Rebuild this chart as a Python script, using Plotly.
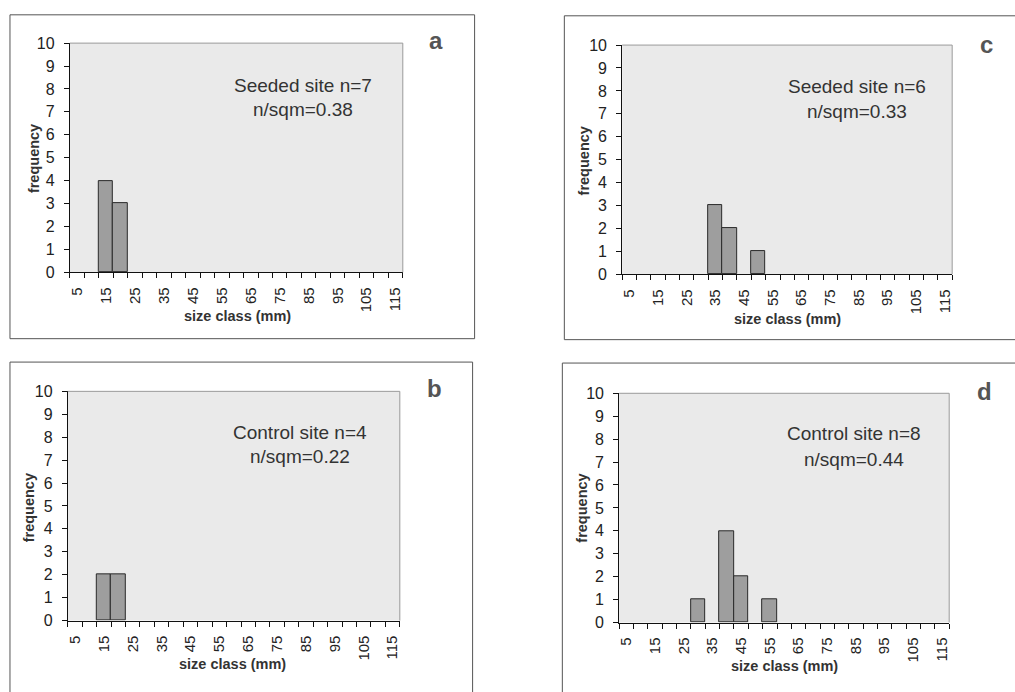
import plotly.graph_objects as go

# ---------------- data ----------------
size_class = [5, 10, 15, 20, 25, 30, 35, 40, 45, 50, 55, 60,
              65, 70, 75, 80, 85, 90, 95, 100, 105, 110, 115]
tick_values = [5, 15, 25, 35, 45, 55, 65, 75, 85, 95, 105, 115]
tick_labels = ["5", "15", "25", "35", "45", "55", "65", "75", "85", "95", "105", "115"]

freq_a = [0, 0, 4, 3, 0, 0, 0, 0, 0, 0, 0, 0, 0, 0, 0, 0, 0, 0, 0, 0, 0, 0, 0]
freq_b = [0, 0, 2, 2, 0, 0, 0, 0, 0, 0, 0, 0, 0, 0, 0, 0, 0, 0, 0, 0, 0, 0, 0]
freq_c = [0, 0, 0, 0, 0, 0, 3, 2, 0, 1, 0, 0, 0, 0, 0, 0, 0, 0, 0, 0, 0, 0, 0]
freq_d = [0, 0, 0, 0, 0, 1, 0, 4, 2, 0, 1, 0, 0, 0, 0, 0, 0, 0, 0, 0, 0, 0, 0]

labels_a = ["Seeded site n=7", "n/sqm=0.38"]
labels_b = ["Control site n=4", "n/sqm=0.22"]
labels_c = ["Seeded site n=6", "n/sqm=0.33"]
labels_d = ["Control site n=8", "n/sqm=0.44"]

# ---------------- layout helpers ----------------
W, H = 1015, 692
FONT = "Arial, Liberation Sans, sans-serif"


def fx(x):
    return x / W


def fy(y):
    return 1 - y / H


panels = [
    dict(letter="a", freq=freq_a, text=labels_a, plot=(68, 402, 36, 271),
         box=(8, 474, 7, 339), lpos=(435, 33), tpos=(302, 79, 104),
         ytl=(32, 154), xtl=(236, 316)),
    dict(letter="c", freq=freq_c, text=labels_c, plot=(622, 953, 38, 273),
         box=(564, 1030, 8, 340), lpos=(987, 37), tpos=(858, 80, 106),
         ytl=(584, 157), xtl=(788, 319)),
    dict(letter="b", freq=freq_b, text=labels_b, plot=(66, 399, 393, 628),
         box=(8, 472, 363, 720), lpos=(434, 390), tpos=(299, 435, 460),
         ytl=(28, 512), xtl=(231, 673)),
    dict(letter="d", freq=freq_d, text=labels_d, plot=(619, 950, 395, 630),
         box=(562, 1030, 364, 720), lpos=(985, 393), tpos=(855, 436, 463),
         ytl=(582, 513), xtl=(785, 675)),
]

minor_vals = [c - 2.5 for c in size_class] + [size_class[-1] + 2.5]

fig = go.Figure()
shapes = []
annotations = []

for i, p in enumerate(panels):
    n = "" if i == 0 else str(i + 1)
    xa, ya = "x" + n, "y" + n
    x0, x1, y0, y1 = p["plot"]

    fig.add_trace(go.Bar(
        x=size_class, y=[v if v else None for v in p["freq"]], width=5,
        xaxis=xa, yaxis=ya,
        marker=dict(color="#9e9e9e", line=dict(color="#2a2a2a", width=1)),
        showlegend=False, hoverinfo="x+y",
    ))

    fig.layout["xaxis" + n] = dict(
        domain=[fx(x0), fx(x1)], anchor=ya, range=[2.5, 117.5],
        tickmode="array", tickvals=tick_values, ticktext=tick_labels,
        tickangle=-90, ticks="", ticklabelstandoff=8,
        tickfont=dict(family=FONT, size=15, color="#222"),
        showline=True, linecolor="#111", linewidth=1,
        showgrid=False, zeroline=False, fixedrange=True,
        minor=dict(tickmode="array", tickvals=minor_vals, ticks="outside",
                   ticklen=5, tickcolor="#111", tickwidth=1, showgrid=False),
    )
    fig.layout["yaxis" + n] = dict(
        domain=[fy(y1), fy(y0)], anchor=xa, range=[0, 10],
        tickmode="linear", tick0=0, dtick=1,
        ticks="outside", ticklen=5, tickcolor="#111", tickwidth=1,
        ticklabelstandoff=6,
        tickfont=dict(family=FONT, size=16, color="#222"),
        showline=True, linecolor="#111", linewidth=1,
        showgrid=False, zeroline=False, fixedrange=True,
    )

    # plot area background + light top/right border
    shapes.append(dict(type="rect", xref="paper", yref="paper",
                       x0=fx(x0), x1=fx(x1), y0=fy(y1), y1=fy(y0),
                       fillcolor="#eaeaea", line=dict(width=0), layer="below"))
    shapes.append(dict(type="line", xref="paper", yref="paper",
                       x0=fx(x0), x1=fx(x1), y0=fy(y0), y1=fy(y0),
                       line=dict(color="#9a9a9a", width=1)))
    shapes.append(dict(type="line", xref="paper", yref="paper",
                       x0=fx(x1), x1=fx(x1), y0=fy(y1), y1=fy(y0),
                       line=dict(color="#9a9a9a", width=1)))
    # outer panel box
    bx0, bx1, by0, by1 = p["box"]
    shapes.append(dict(type="rect", xref="paper", yref="paper",
                       x0=fx(bx0), x1=fx(bx1), y0=fy(by1), y1=fy(by0),
                       line=dict(color="#555", width=1), fillcolor="rgba(0,0,0,0)"))

    # panel letter
    annotations.append(dict(text="<b>%s</b>" % p["letter"], xref="paper", yref="paper",
                            x=fx(p["lpos"][0]), y=fy(p["lpos"][1]),
                            xanchor="center", yanchor="middle", showarrow=False,
                            font=dict(family=FONT, size=24, color="#555")))
    # inside text
    tx, ty1, ty2 = p["tpos"]
    for line, ty in zip(p["text"], (ty1, ty2)):
        annotations.append(dict(text=line, xref="paper", yref="paper",
                                x=fx(tx), y=fy(ty), xanchor="center", yanchor="middle",
                                showarrow=False,
                                font=dict(family=FONT, size=19, color="#333")))
    # axis titles
    annotations.append(dict(text="<b>frequency</b>", xref="paper", yref="paper",
                            x=fx(p["ytl"][0]), y=fy(p["ytl"][1]), textangle=-90,
                            xanchor="center", yanchor="middle", showarrow=False,
                            font=dict(family=FONT, size=14.5, color="#333")))
    annotations.append(dict(text="<b>size class (mm)</b>", xref="paper", yref="paper",
                            x=fx(p["xtl"][0]), y=fy(p["xtl"][1]),
                            xanchor="center", yanchor="middle", showarrow=False,
                            font=dict(family=FONT, size=14.5, color="#333")))

fig.update_layout(
    width=W, height=H, margin=dict(l=0, r=0, t=0, b=0),
    paper_bgcolor="white", plot_bgcolor="rgba(0,0,0,0)",
    bargap=0, shapes=shapes, annotations=annotations,
    font=dict(family=FONT),
)

fig.write_html(
    "out.html",
    config={"displayModeBar": False},
    post_script="document.body.style.margin='0px';document.body.style.overflow='hidden';",
)
